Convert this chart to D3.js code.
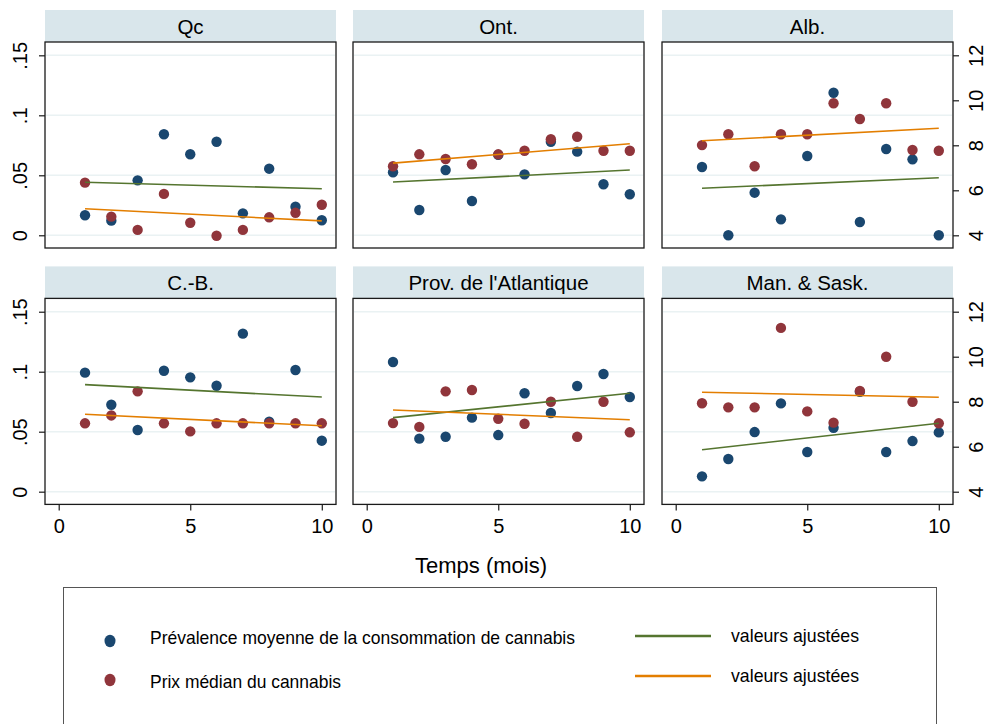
<!DOCTYPE html>
<html>
<head>
<meta charset="utf-8">
<script src="https://cdn.jsdelivr.net/npm/d3@7"></script>
<style>
  html, body { margin: 0; padding: 0; background: #ffffff; }
  svg { display: block; }
</style>
</head>
<body>
<div id="chart"></div>
<script>
// ---------- Data ----------
const panelNames = ["Qc", "Ont.", "Alb.", "C.-B.", "Prov. de l'Atlantique", "Man. & Sask."];
const months = [1, 2, 3, 4, 5, 6, 7, 8, 9, 10];

// Prévalence moyenne de la consommation de cannabis (left axis)
const prevalence = [
  [0.0167, 0.0122, 0.0458, 0.0842, 0.0675, 0.0780, 0.0183, 0.0555, 0.0238, 0.0125],
  [0.0525, 0.0211, 0.0544, 0.0286, 0.0670, 0.0508, 0.0780, 0.0697, 0.0425, 0.0342],
  [0.0569, 0.0000, 0.0355, 0.0133, 0.0661, 0.1188, 0.0111, 0.0719, 0.0633, 0.0000],
  [0.0992, 0.0725, 0.0514, 0.1008, 0.0953, 0.0883, 0.1317, 0.0583, 0.1014, 0.0425],
  [0.1081, 0.0442, 0.0458, 0.0617, 0.0472, 0.0820, 0.0656, 0.0881, 0.0981, 0.0789],
  [0.0128, 0.0272, 0.0497, 0.0736, 0.0331, 0.0533, 0.0833, 0.0331, 0.0422, 0.0494]
];
// Prix médian du cannabis (right axis)
const price = [
  [6.34, 4.83, 4.24, 5.84, 4.56, 3.98, 4.24, 4.80, 5.00, 5.36],
  [7.07, 7.60, 7.39, 7.16, 7.60, 7.76, 8.27, 8.38, 7.76, 7.76],
  [8.01, 8.49, 7.07, 8.49, 8.49, 9.87, 9.17, 9.87, 7.79, 7.76],
  [7.04, 7.39, 8.46, 7.04, 6.68, 7.04, 7.04, 7.04, 7.04, 7.04],
  [7.05, 6.88, 8.46, 8.52, 7.24, 7.02, 8.00, 6.44, 8.00, 6.64],
  [7.93, 7.75, 7.75, 11.28, 7.57, 7.07, 8.48, 10.00, 8.00, 7.04]
];
// Valeurs ajustées (fitted values at month 1 and month 10)
const fitPrevalence = [
  [0.0442, 0.0388], [0.0444, 0.0544], [0.0392, 0.0480],
  [0.0892, 0.0789], [0.0617, 0.0820], [0.0350, 0.0570]
];
const fitPrice = [
  [5.18, 4.64], [7.21, 8.07], [8.20, 8.76],
  [7.44, 6.93], [7.63, 7.20], [8.42, 8.20]
];
const fitMonths = [1, 10];

const xTicks = [0, 5, 10];
const yLeftTicks = [0, 0.05, 0.1, 0.15];
const yLeftLabels = ["0", ".05", ".1", ".15"];
const yRightTicks = [4, 6, 8, 10, 12];

const legendLabels = [
  "Prévalence moyenne de la consommation de cannabis",
  "Prix médian du cannabis",
  "valeurs ajustées",
  "valeurs ajustées"
];
const xTitle = "Temps (mois)";

// ---------- Styles ----------
const C = {
  navy: "#1a476f", maroon: "#90353b", green: "#55752f", orange: "#e37e00",
  strip: "#d9e6eb", grid: "#eaf2f3", frame: "#1a1a1a"
};
const FONT = "Arial, 'Liberation Sans', Helvetica, sans-serif";
const NARROW = "'Liberation Sans Narrow', 'Arial Narrow', 'Liberation Sans', Arial, sans-serif";

// ---------- Layout ----------
const W = 992, H = 724;
const colLeft = [45, 353, 662];
const panelW = 291;
const rowTop = [42, 298.4];
const panelH = 206;
const stripH = 32;

const svg = d3.select("#chart").append("svg")
  .attr("width", W).attr("height", H)
  .style("font-family", FONT);

svg.append("rect").attr("width", W).attr("height", H).attr("fill", "#fff");

panelNames.forEach((name, i) => {
  const col = i % 3, row = Math.floor(i / 3);
  const x0 = colLeft[col], y0 = rowTop[row];
  const x = d3.scaleLinear().domain([-0.521, 10.54]).range([x0, x0 + panelW]);
  const yL = d3.scaleLinear().domain([-0.0106, 0.1611]).range([y0 + panelH, y0]);
  const yR = d3.scaleLinear().domain([3.436, 12.591]).range([y0 + panelH, y0]);

  const g = svg.append("g");

  // strip
  g.append("rect").attr("x", x0).attr("y", y0 - stripH).attr("width", panelW).attr("height", stripH)
    .attr("fill", C.strip);
  g.append("text").attr("x", x0 + panelW / 2).attr("y", y0 - stripH / 2 + 7.5)
    .attr("text-anchor", "middle").attr("font-size", 20.5).attr("fill", "#000").text(name);

  // gridlines
  g.selectAll(".grid").data(yLeftTicks).join("line")
    .attr("x1", x0 + 1).attr("x2", x0 + panelW - 1)
    .attr("y1", d => yL(d)).attr("y2", d => yL(d))
    .attr("stroke", C.grid).attr("stroke-width", 1.5);

  const clip = "clip" + i;
  g.append("clipPath").attr("id", clip).append("rect")
    .attr("x", x0).attr("y", y0).attr("width", panelW).attr("height", panelH);
  const pg = g.append("g").attr("clip-path", `url(#${clip})`);

  // points
  pg.selectAll(".prev").data(months).join("circle")
    .attr("cx", (d) => x(d)).attr("cy", (d, j) => yL(prevalence[i][j]))
    .attr("r", 5.2).attr("fill", C.navy);
  pg.selectAll(".price").data(months).join("circle")
    .attr("cx", (d) => x(d)).attr("cy", (d, j) => yR(price[i][j]))
    .attr("r", 5.2).attr("fill", C.maroon);

  // fitted lines
  const lineL = d3.line().x(d => x(d[0])).y(d => yL(d[1]));
  const lineR = d3.line().x(d => x(d[0])).y(d => yR(d[1]));
  pg.append("path").datum(fitMonths.map((m, k) => [m, fitPrevalence[i][k]]))
    .attr("d", lineL).attr("fill", "none").attr("stroke", C.green).attr("stroke-width", 1.6);
  pg.append("path").datum(fitMonths.map((m, k) => [m, fitPrice[i][k]]))
    .attr("d", lineR).attr("fill", "none").attr("stroke", C.orange).attr("stroke-width", 1.6);

  // frame
  g.append("rect").attr("x", x0).attr("y", y0).attr("width", panelW).attr("height", panelH)
    .attr("fill", "none").attr("stroke", C.frame).attr("stroke-width", 1.3);

  // left axis
  if (col === 0) {
    const ax = g.append("g").attr("transform", `translate(${x0},0)`)
      .call(d3.axisLeft(yL).tickValues(yLeftTicks).tickSize(6).tickPadding(0).tickFormat((d, k) => yLeftLabels[k]));
    ax.select(".domain").remove();
    ax.selectAll("line").attr("stroke", C.frame).attr("stroke-width", 1.2);
    ax.selectAll("text").attr("fill", "#000").attr("font-size", 20).attr("font-family", FONT)
      .attr("text-anchor", "middle").attr("dy", null)
      .attr("x", 0).attr("y", 0)
      .attr("transform", "translate(-25,0) rotate(-90)")
      .attr("dominant-baseline", "central");
  }
  // right axis
  if (col === 2) {
    const ax = g.append("g").attr("transform", `translate(${x0 + panelW},0)`)
      .call(d3.axisRight(yR).tickValues(yRightTicks).tickSize(6).tickPadding(0).tickFormat(d3.format("d")));
    ax.select(".domain").remove();
    ax.selectAll("line").attr("stroke", C.frame).attr("stroke-width", 1.2);
    ax.selectAll("text").attr("fill", "#000").attr("font-size", 20).attr("font-family", FONT)
      .attr("text-anchor", "middle").attr("dy", null)
      .attr("x", 0).attr("y", 0)
      .attr("transform", "translate(23,0) rotate(-90)")
      .attr("dominant-baseline", "central");
  }
  // bottom axis
  if (row === 1) {
    const ax = g.append("g").attr("transform", `translate(0,${y0 + panelH})`)
      .call(d3.axisBottom(x).tickValues(xTicks).tickSize(6).tickPadding(8).tickFormat(d3.format("d")));
    ax.select(".domain").remove();
    ax.selectAll("line").attr("stroke", C.frame).attr("stroke-width", 1.2);
    ax.selectAll("text").attr("fill", "#000").attr("font-size", 20).attr("font-family", FONT)
      .attr("dy", "0.71em");
  }
});

// x axis title
svg.append("text").attr("x", 481).attr("y", 573).attr("text-anchor", "middle")
  .attr("font-size", 22).attr("fill", "#000").text(xTitle);

// ---------- Legend ----------
const lg = svg.append("g");
lg.append("rect").attr("x", 63.5).attr("y", 587.5).attr("width", 873).attr("height", 160)
  .attr("fill", "#fff").attr("stroke", "#555").attr("stroke-width", 1);

const dotItems = [
  { color: C.navy, cy: 641, ty: 644, label: legendLabels[0], len: 425 },
  { color: C.maroon, cy: 680, ty: 688, label: legendLabels[1], len: 191 }
];
dotItems.forEach(d => {
  lg.append("ellipse").attr("cx", 110).attr("cy", d.cy).attr("rx", 5.5).attr("ry", 6.2).attr("fill", d.color);
  lg.append("text").attr("x", 150).attr("y", d.ty).attr("font-size", 18.5)
    .attr("font-family", NARROW).attr("fill", "#000")
    .attr("textLength", d.len).attr("lengthAdjust", "spacingAndGlyphs").text(d.label);
});
const lineItems = [
  { color: C.green, y: 636, ty: 642, label: legendLabels[2] },
  { color: C.orange, y: 676, ty: 682, label: legendLabels[3] }
];
lineItems.forEach(d => {
  lg.append("line").attr("x1", 635).attr("x2", 711).attr("y1", d.y).attr("y2", d.y)
    .attr("stroke", d.color).attr("stroke-width", 2.6);
  lg.append("text").attr("x", 731).attr("y", d.ty).attr("font-size", 18.5)
    .attr("font-family", NARROW).attr("fill", "#000")
    .attr("textLength", 128).attr("lengthAdjust", "spacingAndGlyphs").text(d.label);
});
</script>
</body>
</html>
